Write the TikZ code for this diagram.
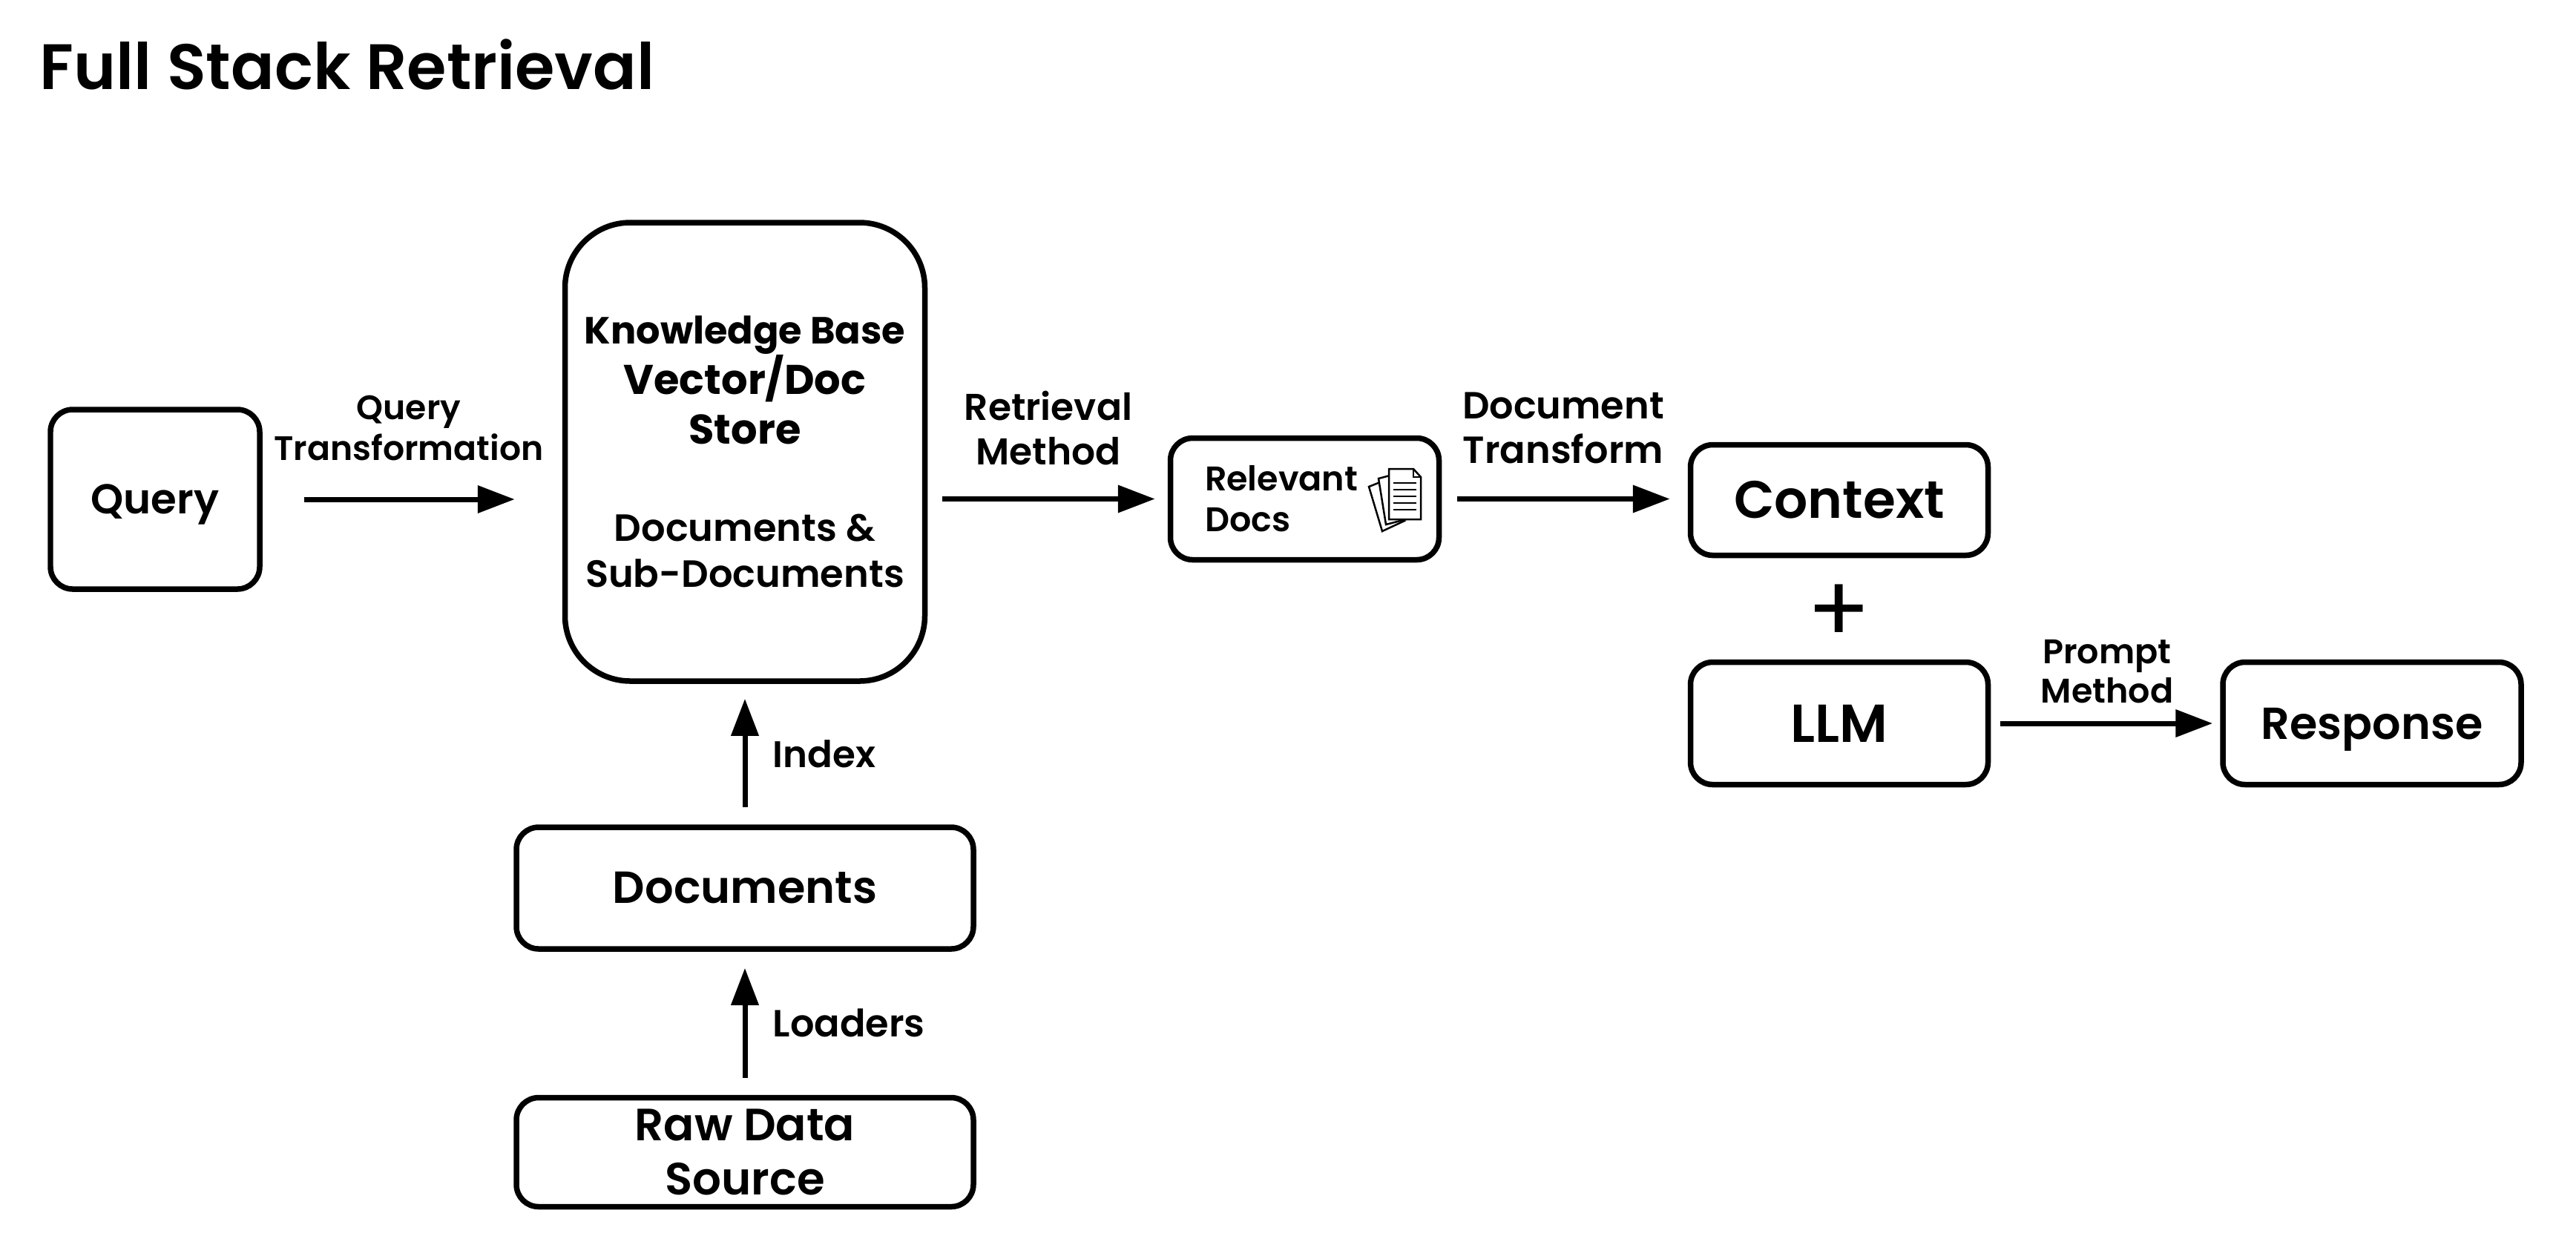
\documentclass[tikz,border=0pt]{standalone}
\usepackage{fontspec}
\setmainfont{Poppins SemiBold}
\newfontfamily\heavy{Poppins Bold}
\newfontfamily\plain{Poppins}
\usetikzlibrary{arrows.meta}
\newcommand{\fs}[2]{\fontsize{#1}{#2}\selectfont}
\tikzset{
	box/.style={draw,line width=0.075cm,rounded corners=0.3cm,align=center,inner sep=0pt},
	lbl/.style={align=center,inner sep=0pt},
	flow/.style={-{Stealth[inset=0pt,length=0.5cm,width=0.36cm]},line width=0.07cm},
	page/.style={draw,fill=white,line width=0.025cm,line join=miter}
}
\begin{document}
\begin{tikzpicture}
	\useasboundingbox (0,0) rectangle (34.72,-16.96);
	\node[lbl,anchor=west,font=\fs{24.6}{28}] (title) at (0.53,-0.87) {Full Stack Retrieval};

	% boxes
	\node[box,text depth=0pt,font=\fs{16}{19},minimum width=2.82cm,minimum height=2.42cm] (query) at (2.09,-6.73) {Query};
	\node[box,rounded corners=0.88cm,font=\fs{14.55}{16.65},minimum width=4.85cm,minimum height=6.18cm] (kb) at (10.04,-6.09)
		{{\heavy\fs{14.5}{16.65}Knowledge Base}\\[-0.03cm]{\heavy\fs{15.9}{16.65}Vector/Doc}\\[0.085cm]{\heavy\fs{15.9}{16.65}Store}\\[0.73cm]Documents \&\\[0.03cm]Sub-Documents};
	\node[box,align=left,font=\fs{13.1}{15.6},text width=2.69cm,minimum width=3.62cm,minimum height=1.64cm] (relevant) at (17.585,-6.725) {Relevant\\Docs};
	\node[box,font=\fs{20.2}{24},minimum width=4.01cm,minimum height=1.49cm] (context) at (24.79,-6.74) {Context};
	\node[box,font=\fs{20.5}{24},minimum width=4.01cm,minimum height=1.65cm] (llm) at (24.79,-9.75) {LLM};
	\node[box,text depth=0pt,font=\fs{17.2}{21},minimum width=4.02cm,minimum height=1.65cm] (response) at (31.97,-9.75) {Response};
	\node[box,font=\fs{17.25}{21},minimum width=6.16cm,minimum height=1.64cm] (docs) at (10.04,-11.97) {Documents};
	\node[box,font=\fs{17.35}{20.7},minimum width=6.16cm,minimum height=1.47cm] (raw) at (10.04,-15.53) {Raw Data\\Source};

	% connectors
	\draw[flow,shorten <=0.56cm,shorten >=0.64cm] (query.east) -- (query.east -| kb.west);
	\draw[flow,shorten <=0.2cm,shorten >=0.17cm] (relevant.west -| kb.east) -- (relevant.west);
	\draw[flow,shorten <=0.21cm,shorten >=0.24cm] (relevant.east) -- (relevant.east -| context.west);
	\draw[flow,shorten <=0.13cm,shorten >=0.1cm] (llm.east) -- (response.west);
	\draw[flow,shorten <=0.23cm,shorten >=0.2cm] (docs.north) -- (docs.north |- kb.south);
	\draw[flow,shorten <=0.23cm,shorten >=0.22cm] (raw.north) -- (docs.south);

	% labels
	\node[lbl,font=\fs{13}{15.6}] (qt) at (5.51,-5.77) {Query\\Transformation};
	\node[lbl,font=\fs{14.3}{17}] (rm) at (14.13,-5.77) {Retrieval\\Method};
	\node[lbl,font=\fs{14.5}{17}] (dt) at (21.07,-5.77) {Document\\Transform};
	\node[lbl,font=\fs{13.1}{15}] (pm) at (28.4,-9.05) {Prompt\\Method};
	\node[lbl,anchor=west,font=\fs{14.2}{17}] (index) at (10.41,-10.16) {Index};
	\node[lbl,anchor=west,font=\fs{14.5}{17}] (loaders) at (10.41,-13.79) {Loaders};
	\node[lbl,font=\plain\fs{36}{40}] (plus) at (24.79,-8.27) {+};

	% pages in the relevant box
	\draw[page] (18.45,-6.56) -- (18.63,-7.16) -- (18.93,-7.02) -- (18.6,-6.50) -- cycle;
	\draw[page] (18.58,-6.45) -- (18.68,-7.07) -- (18.95,-7.00) -- (18.73,-6.41) -- cycle;
	\draw[page] (18.72,-6.32) -- (19.05,-6.32) -- (19.15,-6.43) -- (19.15,-7.00) -- (18.72,-7.00) -- cycle;
	\draw[line width=0.025cm] (19.05,-6.32) -- (19.05,-6.43) -- (19.15,-6.43);
	\foreach \yl in {6.51,6.60,6.69,6.78,6.87}
		\draw[line width=0.025cm] (18.78,-\yl) -- (19.09,-\yl);
\end{tikzpicture}
\end{document}
